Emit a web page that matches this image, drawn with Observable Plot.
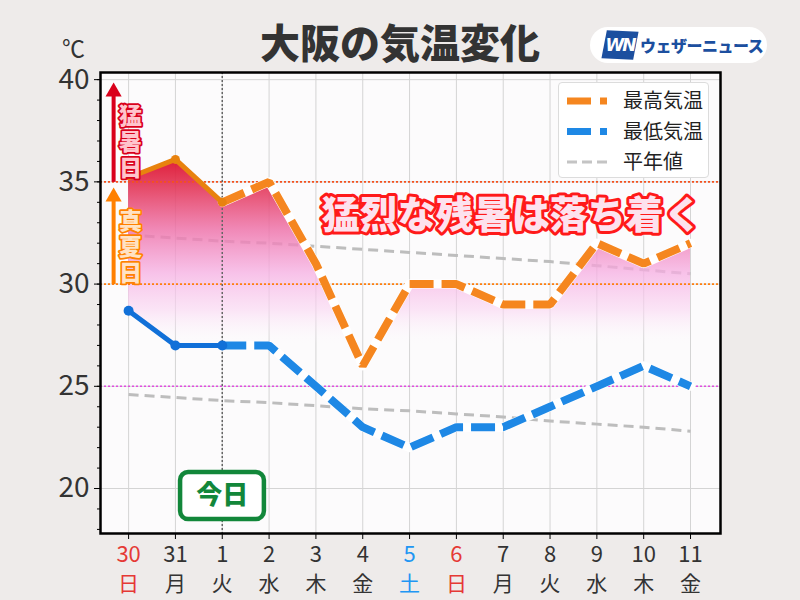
<!DOCTYPE html>
<html>
<head>
<meta charset="utf-8">
<script src="https://cdn.jsdelivr.net/npm/d3@7"></script>
<script src="https://cdn.jsdelivr.net/npm/@observablehq/plot@0.6"></script>
<style>
  body { margin:0; background:#eeebea; font-family:"Noto Sans CJK JP","Noto Sans",sans-serif; }
  #wrap { position:relative; width:800px; height:600px; overflow:hidden; }
  #chart { position:absolute; left:0; top:0; }
  .ov { position:absolute; }
</style>
</head>
<body>
<div id="wrap">
  <div id="chart"></div>
  <div class="ov" id="title" style="left:0;top:18px;width:800px;text-align:center;font-size:40px;font-weight:900;color:#333;line-height:46px;">大阪の気温変化</div>
  <div class="ov" style="left:62px;top:33px;font-size:23px;color:#333;line-height:28px;">℃</div>
  <div class="ov" id="logo" style="left:590px;top:27px;width:177px;height:36px;border-radius:18px;background:#fff;">
    <div style="position:absolute;left:14px;top:4px;width:32px;height:28px;background:#1c4f9f;transform:skewX(-8deg) rotate(3deg);"></div>
    <div style="position:absolute;left:12px;top:6px;width:36px;text-align:center;color:#fff;font-weight:900;font-style:italic;font-size:17px;line-height:24px;letter-spacing:-2px;font-family:'DejaVu Sans',sans-serif;">WN</div>
    <div style="position:absolute;left:50px;top:0;line-height:36px;font-size:16px;font-weight:900;color:#1c4f9f;letter-spacing:-0.5px;">ウェザーニュース</div>
  </div>
  <div class="ov" id="legend" style="left:558px;top:82px;width:151px;height:96px;background:#fff;border:1px solid #dcdcdc;border-radius:4px;box-sizing:border-box;"></div>
</div>
<script>
// ---- data ----
const days = ["30","31","1","2","3","4","5","6","7","8","9","10","11"];
const weekdays = ["日","月","火","水","木","金","土","日","月","火","水","木","金"];
const highs = [35.2, 36.1, 34.0, 35.0, 31.0, 26.0, 30.0, 30.0, 29.0, 29.0, 32.0, 31.0, 32.0];
const lows = [28.7, 27.0, 27.0, 27.0, 25.0, 23.0, 22.0, 23.0, 23.0, 24.0, 25.0, 26.0, 25.0];
const normalHighs = [32.4, 32.25, 32.1, 32.0, 31.85, 31.7, 31.55, 31.4, 31.25, 31.1, 30.9, 30.7, 30.5];
const normalLows = [24.6, 24.45, 24.3, 24.2, 24.05, 23.9, 23.8, 23.65, 23.5, 23.3, 23.15, 23.0, 22.8];
const todayIndex = 2;
const yTicks = [20, 25, 30, 35, 40];
const legendLabels = ["最高気温", "最低気温", "平年値"];
const hotLabel = "猛\n暑\n日";
const summerLabel = "真\n夏\n日";
const headline = "猛烈な残暑は落ち着く";
const todayLabel = "今日";
const thresholdHot = 35, thresholdSummer = 30, thresholdWarm = 25;

const rows = days.map((d, i) => ({i, day: d, wd: weekdays[i], high: highs[i], low: lows[i], nh: normalHighs[i], nl: normalLows[i]}));
const idx = rows.map(r => r.i);
const past = rows.filter(r => r.i <= todayIndex);
const future = rows.filter(r => r.i >= todayIndex);

const labelColor = i => weekdays[i] === "日" ? "#e53935" : weekdays[i] === "土" ? "#2196f3" : "#333";

const gradientDefs = (index, scales) => {
  const defs = d3.create("svg:defs");
  const g = defs.append("linearGradient").attr("id", "hotGrad")
    .attr("gradientUnits", "userSpaceOnUse")
    .attr("x1", 0).attr("x2", 0)
    .attr("y1", scales.y(36.3)).attr("y2", scales.y(27.0));
  [[0, "#dc0a28", 0.95], [0.15, "#e2304f", 0.9], [0.4, "#ee72aa", 0.82], [0.62, "#f6aee2", 0.75], [0.82, "#fad6f2", 0.6], [1, "#fcf8fc", 0]]
    .forEach(([o, c, a]) => g.append("stop").attr("offset", o).attr("stop-color", c).attr("stop-opacity", a));
  return defs.node();
};

const arrowX = -0.32, textX = 0.04;
const dashed = {strokeWidth: 8, strokeDasharray: "24,8", strokeLinecap: "butt", strokeLinejoin: "miter"};

const chart = Plot.plot({
  width: 800, height: 600,
  marginLeft: 100, marginRight: 80, marginTop: 72, marginBottom: 67,
  x: {domain: [-0.6, 12.64]},
  y: {domain: [17.8, 40.35]},
  style: {fontFamily: "'Noto Sans CJK JP','Noto Sans',sans-serif", background: "transparent", overflow: "visible"},
  marks: [
    gradientDefs,
    Plot.frame({fill: "#fcfbfc", stroke: "none"}),
    Plot.gridX(idx, {stroke: "#d4d4d4", strokeOpacity: 1, strokeWidth: 1}),
    Plot.gridY(yTicks, {stroke: "#d4d4d4", strokeOpacity: 1, strokeWidth: 1}),
    Plot.line(rows, {x: "i", y: "nh", stroke: "#bdbdbd", strokeWidth: 3, strokeDasharray: "10,6", strokeLinecap: "butt"}),
    Plot.line(rows, {x: "i", y: "nl", stroke: "#bdbdbd", strokeWidth: 3, strokeDasharray: "10,6", strokeLinecap: "butt"}),
    Plot.areaY(rows, {x: "i", y1: "low", y2: "high", fill: "url(#hotGrad)"}),
    Plot.ruleY([thresholdHot], {stroke: "#f4511e", strokeWidth: 1.6, strokeDasharray: "2,2"}),
    Plot.ruleY([thresholdSummer], {stroke: "#ff7f0e", strokeWidth: 1.6, strokeDasharray: "2,2"}),
    Plot.ruleY([thresholdWarm], {stroke: "#e04ee0", strokeWidth: 1.6, strokeDasharray: "2,2"}),
    Plot.ruleX([todayIndex], {stroke: "#666", strokeWidth: 1.5, strokeDasharray: "2,2"}),
    // dashed forecast lines with white underlay
    Plot.line(future, {x: "i", y: "high", stroke: "#fff", strokeWidth: 9}),
    Plot.line(future, {x: "i", y: "high", stroke: "#f5861f", ...dashed}),
    Plot.line(future, {x: "i", y: "low", stroke: "#fff", strokeWidth: 9}),
    Plot.line(future, {x: "i", y: "low", stroke: "#1e88e5", ...dashed}),
    // solid observed lines
    Plot.line(past, {x: "i", y: "high", stroke: "#e8820e", strokeWidth: 5}),
    Plot.dot(past.slice(1), {x: "i", y: "high", r: 4.5, fill: "#e8820e"}),
    Plot.line(past, {x: "i", y: "low", stroke: "#1170d8", strokeWidth: 5}),
    Plot.dot(past, {x: "i", y: "low", r: 5, fill: "#1170d8"}),
    // frame
    Plot.frame({stroke: "#000", strokeWidth: 2.5}),
    // threshold arrows
    Plot.link([0], {x1: arrowX, x2: arrowX, y1: thresholdHot, y2: 39.45, stroke: "#d9001b", strokeWidth: 4}),
    Plot.dot([0], {x: arrowX, y: 39.41, symbol: "triangle", r: 6, fill: "#d9001b"}),
    Plot.link([0], {x1: arrowX, x2: arrowX, y1: thresholdSummer, y2: 34.3, stroke: "#ff8000", strokeWidth: 4}),
    Plot.dot([0], {x: arrowX, y: 34.27, symbol: "triangle", r: 6, fill: "#ff8000"}),
    Plot.text([hotLabel], {x: textX, y: 36.98, text: d => d, fontSize: 23, fontWeight: 900, lineHeight: 1.13, fill: "#ffc4cc", stroke: "#d9001b", strokeWidth: 3.5, paintOrder: "stroke", strokeLinejoin: "round"}),
    Plot.text([summerLabel], {x: textX, y: 31.84, text: d => d, fontSize: 23, fontWeight: 900, lineHeight: 1.13, fill: "#ffe2c4", stroke: "#ff8000", strokeWidth: 3.5, paintOrder: "stroke", strokeLinejoin: "round"}),
    // headline
    Plot.text([headline], {x: 8.18, y: 33.33, text: d => d, fontSize: 38, fontWeight: 900, fill: "#fde2ee", stroke: "#ff1a1a", strokeWidth: 6, paintOrder: "stroke", strokeLinejoin: "round"}),
    // today box
    Plot.rect([0], {x1: 1.11, x2: 2.9, y1: 18.48, y2: 20.78, rx: 8, fill: "#fff", stroke: "#12873a", strokeWidth: 4.5}),
    Plot.text([todayLabel], {x: todayIndex, y: 19.63, text: d => d, fontSize: 26, fontWeight: 900, fill: "#12873a"}),
    // axes
    Plot.axisY(d3.range(18, 41), {tickSize: 3, tickFormat: () => "", stroke: "#000"}),
    Plot.axisY(yTicks, {tickSize: 6, tickPadding: 5, fontSize: 28, fill: "#333", stroke: "#000", label: null}),
    Plot.axisX(idx, {tickSize: 6, tickPadding: 7, fontSize: 22, tickFormat: i => days[i], fill: labelColor, stroke: "#000", label: null}),
    Plot.axisX(idx, {tickSize: 0, tickPadding: 43, fontSize: 21, tickFormat: i => weekdays[i], fill: labelColor, label: null})
  ]
});
document.getElementById("chart").appendChild(chart);

// legend
const leg = d3.select("#legend");
const legSvg = leg.append("svg").attr("width", 151).attr("height", 96).style("position", "absolute").style("left", "0").style("top", "0");
const legendStyles = [
  {stroke: "#f5861f", w: 7, dash: "24,9"},
  {stroke: "#1e88e5", w: 7, dash: "24,9"},
  {stroke: "#c4c4c4", w: 3, dash: "10,5"}
];
legendLabels.forEach((lab, k) => {
  const cy = 18 + k * 30.5;
  const s = legendStyles[k];
  legSvg.append("line").attr("x1", 8).attr("x2", 48).attr("y1", cy).attr("y2", cy)
    .attr("stroke", s.stroke).attr("stroke-width", s.w).attr("stroke-dasharray", s.dash);
  legSvg.append("text").attr("x", 64).attr("y", cy).attr("dy", "0.36em")
    .attr("font-size", 20).attr("fill", "#222").text(lab);
});
</script>
</body>
</html>
